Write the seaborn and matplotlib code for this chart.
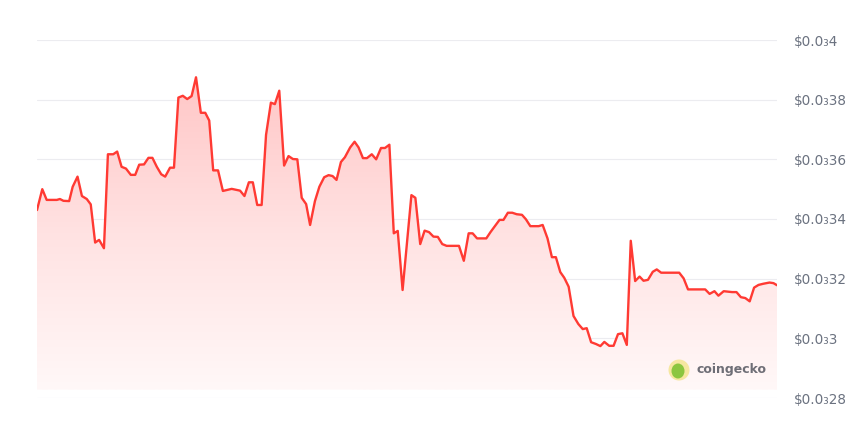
import numpy as np
import pandas as pd
import matplotlib
matplotlib.use('Agg')
import matplotlib.pyplot as plt
import seaborn as sns
from matplotlib.patches import Circle, Ellipse

# ── Data (hours since start, price in USD) ───────────────────────────────────
hours = [0.0, 1.2, 2.2, 4.5, 5.2, 6.0, 7.3, 8.1, 9.2, 10.2, 11.3, 12.2, 13.2, 14.1,
         15.2, 16.1, 17.3, 18.2, 19.2, 20.2, 21.3, 22.3, 23.2, 24.3, 25.3, 26.2,
         27.2, 28.2, 29.1, 30.2, 31.1, 32.1, 33.1, 34.1, 35.1, 36.1, 37.2, 38.2,
         39.1, 40.0, 41.1, 42.2, 43.1, 44.2, 46.1, 47.1, 48.1, 49.0, 50.0, 51.0,
         52.0, 53.1, 54.0, 55.0, 56.1, 57.1, 58.1, 59.1, 60.1, 61.1, 62.0, 63.1,
         64.1, 65.2, 66.2, 67.1, 68.0, 69.0, 69.9, 71.1, 72.1, 73.0, 74.0, 74.9,
         76.0, 77.0, 78.1, 79.0, 80.0, 81.0, 81.9, 83.0, 85.0, 85.9, 87.0, 88.0,
         89.0, 90.0, 91.0, 92.0, 93.0, 95.8, 96.9, 98.0, 98.9, 99.9, 102.0, 103.0,
         104.0, 105.0, 105.9, 106.9, 107.9, 108.9, 110.1, 111.0, 112.0, 113.9,
         114.8, 115.9, 116.9, 117.8, 118.8, 119.7, 120.7, 121.8, 122.9, 123.9,
         124.8, 125.8, 126.9, 127.9, 128.8, 129.9, 130.9, 131.9, 132.9, 133.9,
         134.8, 135.8, 136.8, 137.7, 138.7, 139.8, 140.7, 141.7, 145.8, 146.8,
         147.8, 151.7, 152.7, 153.8, 154.7, 155.9, 157.8, 158.8, 159.8, 160.8,
         161.8, 162.8, 163.8, 164.9, 166.3, 167.2, 168.0]

price_e5 = [34.30, 35.00, 34.64, 34.64, 34.67, 34.61, 34.60, 35.08, 35.42, 34.77,
            34.67, 34.49, 33.21, 33.30, 33.02, 36.17, 36.17, 36.26, 35.75, 35.69,
            35.48, 35.48, 35.82, 35.83, 36.05, 36.05, 35.75, 35.50, 35.42, 35.72,
            35.72, 38.07, 38.13, 38.02, 38.12, 38.75, 37.56, 37.56, 37.30, 35.63,
            35.63, 34.94, 34.97, 35.01, 34.95, 34.77, 35.23, 35.23, 34.47, 34.47,
            36.82, 37.90, 37.85, 38.30, 35.79, 36.11, 36.01, 36.00, 34.71, 34.50,
            33.80, 34.60, 35.08, 35.40, 35.47, 35.44, 35.31, 35.91, 36.07, 36.40,
            36.59, 36.40, 36.04, 36.04, 36.17, 36.00, 36.38, 36.38, 36.49, 33.52,
            33.60, 31.62, 34.80, 34.71, 33.16, 33.61, 33.56, 33.41, 33.40, 33.16,
            33.10, 33.10, 32.60, 33.52, 33.52, 33.35, 33.35, 33.57, 33.77, 33.97,
            33.97, 34.21, 34.21, 34.16, 34.14, 33.99, 33.76, 33.76, 33.80, 33.35,
            32.72, 32.72, 32.22, 32.03, 31.73, 30.75, 30.48, 30.31, 30.34, 29.87,
            29.81, 29.74, 29.88, 29.75, 29.75, 30.14, 30.17, 29.78, 33.27, 31.92,
            32.07, 31.93, 31.96, 32.23, 32.31, 32.20, 32.20, 32.01, 31.64, 31.64,
            31.49, 31.58, 31.43, 31.58, 31.55, 31.55, 31.38, 31.35, 31.24, 31.70,
            31.79, 31.83, 31.87, 31.85, 31.78]

tick_values = [0.00028, 0.0003, 0.00032, 0.00034, 0.00036, 0.00038, 0.0004]
tick_labels = ['$0.0₃28', '$0.0₃3', '$0.0₃32', '$0.0₃34', '$0.0₃36', '$0.0₃38', '$0.0₃4']

df = pd.DataFrame({'hour': hours, 'price': np.array(price_e5) * 1e-5})

LINE = '#ff3a33'
FILL_BASE = 0.0002828

# ── Figure ───────────────────────────────────────────────────────────────────
sns.set_style('white')
plt.rcParams['font.family'] = ['DejaVu Sans']

fig = plt.figure(figsize=(8.62, 4.25), dpi=100)
ax = fig.add_axes([37 / 862, 27 / 425, 740 / 862, 358 / 425])

sns.lineplot(data=df, x='hour', y='price', color=LINE, linewidth=1.7, ax=ax, zorder=3)

# gradient fill under the line
poly = ax.fill_between(df['hour'], df['price'], FILL_BASE, color='none', lw=0)
grad = np.linspace(0, 1, 256).reshape(-1, 1)
cmap = matplotlib.colors.LinearSegmentedColormap.from_list(
    'g', ['#ffc6c6', '#ffe2e2', '#fff8f8'])
img = ax.imshow(grad, aspect='auto', cmap=cmap,
                extent=[0, 168, FILL_BASE, 0.000388], origin='upper', zorder=1)
img.set_clip_path(poly.get_paths()[0], transform=ax.transData)

ax.set_xlim(0, 168)
ax.set_ylim(0.00028, 0.0004)
ax.set_yticks(tick_values)
ax.set_yticklabels(tick_labels)
ax.yaxis.tick_right()
ax.tick_params(axis='y', length=0, pad=12, labelsize=9.8, labelcolor='#6b7280')
ax.set_xticks([])
ax.set_xlabel('')
ax.set_ylabel('')
ax.grid(axis='y', color='#ececf0', linewidth=0.8, zorder=0)
for s in ax.spines.values():
    s.set_visible(False)

# ── Watermark ────────────────────────────────────────────────────────────────
fig.patches.append(Circle((679, 55), 10.5, transform=None, facecolor='#f6e7a0',
                          edgecolor='none', zorder=5))
fig.patches.append(Ellipse((678, 54), 13, 15, transform=None, facecolor='#8cc63f',
                           edgecolor='none', zorder=6))
fig.text(697 / 862, 55 / 425, 'coingecko', fontsize=9, fontweight='bold',
         color='#6e6e76', va='center', ha='left')

fig.savefig('out.png', dpi=100, facecolor='white')
